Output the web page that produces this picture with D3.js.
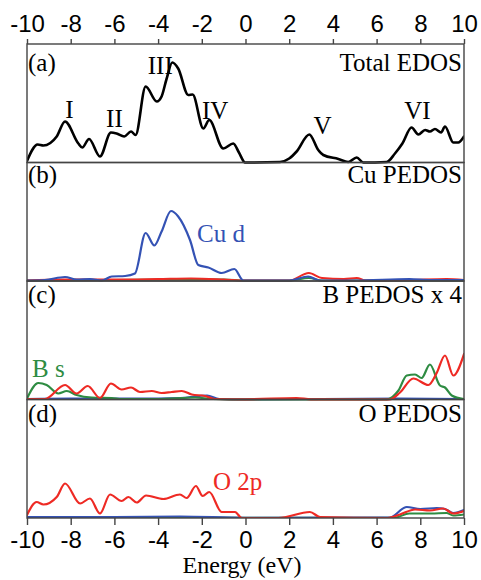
<!DOCTYPE html>
<html>
<head>
<meta charset="utf-8">
<script src="https://cdn.jsdelivr.net/npm/d3@7"></script>
<style>
  html, body { margin: 0; padding: 0; background: #fff; }
  svg { display: block; font-family: "Liberation Serif", "DejaVu Serif", serif; }
  .axis text { font-size: 24px; fill: #000; }
  .axis path, .axis line { stroke: #444; stroke-width: 1.4; }
  .frame { fill: none; stroke: #444; stroke-width: 1.4; }
  .panel-label { font-size: 25px; fill: #000; }
  .peak-label { font-size: 25px; fill: #000; text-anchor: middle; }
  .dos { fill: none; stroke-linejoin: round; stroke-linecap: round; }
</style>
</head>
<body>
<div id="chart"></div>
<script>
// Energy ticks (eV)
const ticks = [-10, -8, -6, -4, -2, 0, 2, 4, 6, 8, 10];

// (a) total EDOS
const totE = [-10, -9.51, -9.25, -8.64, -8.26, -7.65, -7.47, -7.16, -6.66, -6.16, -5.9, -5.55, -5.24, -5.03,
  -4.57, -4.06, -3.84, -3.62, -3.35, -3.08, -2.62, -2.42, -1.93, -1.66, -1.02, -0.56, -0.3, -0.02, 1.58, 2.0, 2.34,
  2.92, 3.33, 3.56, 4.25, 4.7, 5.09, 5.39, 6.46, 6.84, 7.18, 7.6, 7.91, 8.22, 8.44, 8.67, 8.95, 9.13, 9.51, 9.74, 10];
const totV = [0.15, 1.8, 1.7, 2.6, 4.1, 1.9, 1.5, 2.35, 0.6, 3.0, 2.9, 2.6, 3.1, 2.75,
  7.6, 6.1, 6.6, 8.3, 10.0, 9.4, 6.75, 6.8, 3.4, 4.25, 1.4, 1.9, 1.0, 0, 0.05, 0.4, 1.1,
  2.8, 1.25, 0.75, 0.35, 0.05, 0.5, 0, 0.05, 0.9, 1.9, 3.5, 2.8, 3.25, 3.1, 3.35, 3.0, 3.6, 2.0, 2.0, 2.6];
const peakNames = ["I", "II", "III", "IV", "V", "VI"];
const peakE = [-8.06, -6.0, -3.9, -1.39, 3.53, 7.87];
const peakV = [4.45, 3.6, 8.9, 4.4, 2.9, 4.4];

// (b) Cu PEDOS
const cuDE = [-10, -9.18, -8.26, -7.73, -7.12, -6.58, -6.12, -5.51, -5.06, -4.57, -4.17, -3.84, -3.41, -3.08,
  -2.54, -2.16, -1.7, -1.09, -0.51, -0.1, 2.0, 2.87, 3.4, 5.0, 7.5, 8.5, 10];
const cuDV = [0.05, 0.1, 0.4, 0.15, 0.2, 0.05, 0.45, 0.5, 0.75, 4.8, 3.55, 4.95, 7.0, 6.45,
  4.1, 1.6, 1.35, 0.8, 1.2, 0.05, 0.05, 0.45, 0.05, 0.05, 0.2, 0.1, 0.1];
const cuRedE = [-10, -8.3, -6, -4, -2.5, -1, 0, 2, 2.9, 3.5, 4.5, 5.09, 5.5, 7.5, 9.2, 10];
const cuRedV = [0.05, 0.15, 0.15, 0.2, 0.25, 0.15, 0.05, 0.05, 0.8, 0.3, 0.2, 0.3, 0.05, 0.1, 0.2, 0.1];
const cuGreenE = [-10, -6, -3, -1, 0, 2, 2.9, 3.5, 10];
const cuGreenV = [0.05, 0.1, 0.15, 0.15, 0.05, 0.05, 0.3, 0.05, 0.05];

// (c) B PEDOS x 4
const bsE = [-10, -9.48, -9.1, -8.57, -8.18, -7.73, -7.04, -6.12, -5.67, -4, -2.3, -1.5, 0, 6.46,
  7.0, 7.38, 7.76, 8.06, 8.44, 8.9, 9.13, 9.44, 10];
const bsV = [0.1, 1.65, 1.45, 0.6, 0.85, 0.45, 0.2, 0.15, 0.05, 0.05, 0.2, 0.05, 0, 0,
  0.9, 2.4, 2.5, 2.15, 3.5, 1.4, 1.2, 0.4, 0.05];
const bpE = [-10, -9.18, -8.26, -7.73, -7.22, -6.66, -6.16, -5.67, -5.24, -4.83, -4.29, -3.84, -3.38, -2.92,
  -2.46, -1.85, -1.4, 0, 2.34, 3, 6.6, 7.07, 7.68, 8.37, 8.75, 9.13, 9.51, 10];
const bpV = [0.05, 0.05, 1.45, 0.6, 1.35, 0.15, 1.6, 1.0, 1.2, 0.75, 0.85, 0.65, 0.75, 0.85,
  0.5, 0.35, 0.05, 0.02, 0.15, 0.02, 0, 0.7, 2.1, 1.45, 2.65, 4.4, 2.4, 4.55];
const bdE = [-10, -8, -5, -3, -1.76, -1.2, 0, 7, 10];
const bdV = [0.05, 0.1, 0.1, 0.15, 0.4, 0.05, 0, 0.1, 0.05];

// (d) O PEDOS
const opE = [-10, -9.56, -9.25, -8.64, -8.26, -7.57, -7.12, -6.66, -6.2, -5.67, -5.36, -4.98, -4.55, -3.76,
  -3.0, -2.69, -2.27, -1.96, -1.66, -1.09, -0.48, -0.17, 1.5, 2.95, 3.41, 6.5, 7.07, 7.76, 8.44, 9.05, 9.51, 10];
const opV = [0.3, 1.6, 1.35, 2.1, 3.45, 1.45, 1.95, 0.45, 2.35, 1.7, 2.1, 1.55, 2.25, 1.9,
  2.35, 2.0, 3.2, 2.2, 2.6, 0.6, 0.6, 0, 0, 0.6, 0.1, 0, 0.35, 0.85, 0.75, 0.95, 0.45, 0.7];
const odE = [-10, -6, -3, 0, 6.6, 7.38, 8.0, 8.75, 9.13, 9.51, 10];
const odV = [0.1, 0.1, 0.15, 0.02, 0.05, 1.1, 0.9, 1.0, 0.9, 0.5, 0.8];
const osE = [-10, -5, 0, 6.8, 7.5, 8.5, 9.2, 9.5, 10];
const osV = [0.05, 0.1, 0.02, 0.02, 0.45, 0.45, 0.5, 0.25, 0.35];

const BLUE = "#3452b4", RED = "#ee2a24", GREEN = "#2e8c42";

const panels = [
  { tag: "(a)", title: "Total EDOS", lineY: 27,
    series: [{ e: totE, v: totV, color: "#000", w: 2.6 }] },
  { tag: "(b)", title: "Cu PEDOS", lineY: 20,
    series: [{ e: cuGreenE, v: cuGreenV, color: GREEN, w: 2 }, { e: cuRedE, v: cuRedV, color: RED, w: 2 },
             { e: cuDE, v: cuDV, color: BLUE, w: 2.2 }],
    note: { text: "Cu d", e: -2.22, v: 3.95, color: BLUE } },
  { tag: "(c)", title: "B PEDOS x 4", lineY: 22,
    series: [{ e: bdE, v: bdV, color: BLUE, w: 2 }, { e: bsE, v: bsV, color: GREEN, w: 2.2 },
             { e: bpE, v: bpV, color: RED, w: 2.2 }],
    note: { text: "B s", e: -9.77, v: 2.25, color: GREEN } },
  { tag: "(d)", title: "O PEDOS", lineY: 22.5,
    series: [{ e: osE, v: osV, color: GREEN, w: 2 }, { e: odE, v: odV, color: BLUE, w: 2.2 },
             { e: opE, v: opV, color: RED, w: 2.2 }],
    note: { text: "O 2p", e: -1.49, v: 2.8, color: RED } },
];

const W = 481, H = 580;
const plotLeft = 27, plotRight = 464, plotTop = 44, plotBottom = 518;
const ph = (plotBottom - plotTop) / panels.length;

const svg = d3.select("#chart").append("svg").attr("width", W).attr("height", H);
const x = d3.scaleLinear().domain([-10, 10]).range([plotLeft, plotRight]);

svg.append("defs").append("clipPath").attr("id", "clip")
  .append("rect").attr("x", plotLeft).attr("y", plotTop)
  .attr("width", plotRight - plotLeft).attr("height", plotBottom - plotTop);

panels.forEach((p, i) => {
  const y0 = plotTop + i * ph;
  const y = d3.scaleLinear().domain([0, 11.85]).range([y0 + ph, y0]);
  const g = svg.append("g");
  const line = d3.line().x((d) => x(d[0])).y((d) => y(d[1])).curve(d3.curveMonotoneX);

  const curves = g.append("g").attr("clip-path", "url(#clip)");
  p.series.forEach((s) => {
    curves.append("path")
      .attr("class", "dos")
      .attr("d", line(d3.zip(s.e, s.v)))
      .attr("stroke", s.color)
      .attr("stroke-width", s.w);
  });

  g.append("rect").attr("class", "frame")
    .attr("x", plotLeft).attr("y", y0).attr("width", plotRight - plotLeft).attr("height", ph);

  g.append("text").attr("class", "panel-label")
    .attr("x", plotLeft + 1).attr("y", y0 + p.lineY).text(p.tag);
  g.append("text").attr("class", "panel-label")
    .attr("x", plotRight - 2).attr("y", y0 + p.lineY).attr("text-anchor", "end").text(p.title);

  if (p.note) {
    g.append("text").attr("class", "panel-label")
      .attr("x", x(p.note.e)).attr("y", y(p.note.v))
      .style("fill", p.note.color)
      .text(p.note.text);
  }

  if (i === 0) {
    g.selectAll(".peak-label")
      .data(peakNames)
      .join("text")
      .attr("class", "peak-label")
      .attr("x", (d, k) => x(peakE[k]))
      .attr("y", (d, k) => y(peakV[k]))
      .text((d) => d);
  }
});

svg.append("g").attr("class", "axis")
  .attr("transform", `translate(0,${plotTop})`)
  .call(d3.axisTop(x).tickValues(ticks).tickSize(5).tickSizeOuter(0).tickPadding(7).tickFormat((d) => String(d)));

svg.append("g").attr("class", "axis")
  .attr("transform", `translate(0,${plotBottom})`)
  .call(d3.axisBottom(x).tickValues(ticks).tickSize(7).tickSizeOuter(0).tickPadding(6).tickFormat((d) => String(d)));

svg.selectAll(".axis .domain").remove();

svg.append("text")
  .attr("x", 242)
  .attr("y", 573)
  .attr("text-anchor", "middle")
  .style("font-size", "24px")
  .style("fill", "#000")
  .text("Energy (eV)");
</script>
</body>
</html>
